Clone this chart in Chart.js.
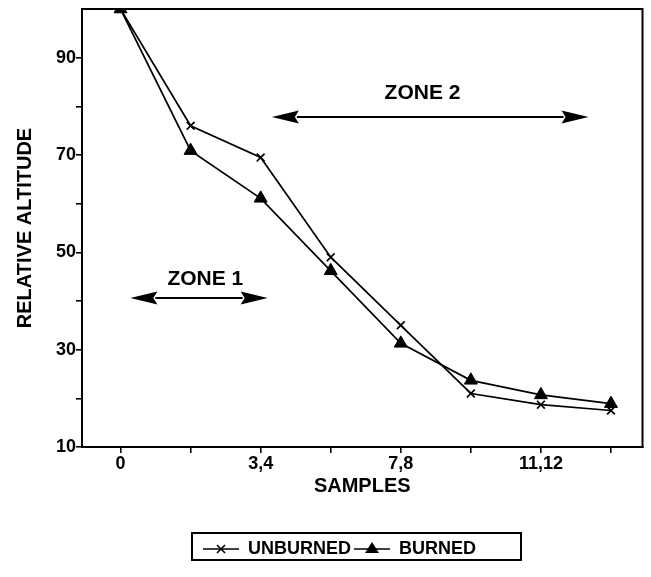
<!DOCTYPE html>
<html>
<head>
<meta charset="utf-8">
<script src="https://cdn.jsdelivr.net/npm/chart.js@4"></script>
<style>
  html, body { margin: 0; padding: 0; background: #fff; }
</style>
</head>
<body>
<canvas id="chart" width="651" height="577"></canvas>
<script>
// sample positions along the x axis, one tick each, labels on every other
const sampleIdx = [0, 1, 2, 3, 4, 5, 6, 7];
const xTickLabels = ["0", "", "3,4", "", "7,8", "", "11,12", ""];
const yTicks = [10, 20, 30, 40, 50, 60, 70, 80, 90];
const yTickLabels = ["10", "", "30", "", "50", "", "70", "", "90"];

// relative altitude
const unburned = [100, 76, 69.5, 49, 35, 21, 18.7, 17.5];
const burned = [100, 70.9, 61.1, 46.2, 31.3, 23.7, 20.7, 18.9];

// zone arrows (data coordinates)
const zoneNames = ["ZONE 1", "ZONE 2"];
const zoneFrom = [0.14, 2.16];
const zoneTo = [2.1, 6.68];
const zoneLevel = [40.6, 77.8];
const zoneLabelX = [1.21, 4.31];
const zoneLabelY = [44.4, 82.6];

const FONT = "'Liberation Sans', Arial, Helvetica, sans-serif";

function toPoints(values) {
  return sampleIdx.map((s, i) => ({ x: s, y: values[i] }));
}

// small line + marker picture for the legend
function legendIcon(kind) {
  const c = document.createElement("canvas");
  c.width = 36;
  c.height = 18;
  const g = c.getContext("2d");
  g.strokeStyle = "#000";
  g.fillStyle = "#000";
  g.lineWidth = 1.6;
  g.beginPath();
  g.moveTo(0, 9);
  g.lineTo(36, 9);
  g.stroke();
  if (kind === "cross") {
    g.beginPath();
    g.moveTo(14, 5); g.lineTo(22, 13);
    g.moveTo(22, 5); g.lineTo(14, 13);
    g.stroke();
  } else {
    g.beginPath();
    g.moveTo(18, 2); g.lineTo(25, 13); g.lineTo(11, 13);
    g.closePath();
    g.fill();
  }
  return c;
}

const framePlugin = {
  id: "frame",
  afterDatasetsDraw(chart) {
    const { ctx, chartArea, scales } = chart;
    const x = scales.x, y = scales.y;
    ctx.save();
    ctx.strokeStyle = "#000";
    ctx.fillStyle = "#000";
    ctx.lineWidth = 2;
    ctx.strokeRect(chartArea.left, chartArea.top, chartArea.width, chartArea.height);

    // double arrows with zone names
    const head = 27, half = 6.5;
    zoneNames.forEach((name, i) => {
      const x1 = x.getPixelForValue(zoneFrom[i]);
      const x2 = x.getPixelForValue(zoneTo[i]);
      const yy = y.getPixelForValue(zoneLevel[i]);
      ctx.beginPath();
      ctx.moveTo(x1 + head - 2, yy);
      ctx.lineTo(x2 - head + 2, yy);
      ctx.stroke();
      ctx.beginPath();
      ctx.moveTo(x1, yy);
      ctx.lineTo(x1 + head, yy - half);
      ctx.lineTo(x1 + head - 4, yy);
      ctx.lineTo(x1 + head, yy + half);
      ctx.closePath();
      ctx.fill();
      ctx.beginPath();
      ctx.moveTo(x2, yy);
      ctx.lineTo(x2 - head, yy - half);
      ctx.lineTo(x2 - head + 4, yy);
      ctx.lineTo(x2 - head, yy + half);
      ctx.closePath();
      ctx.fill();

      ctx.font = "bold 21px " + FONT;
      ctx.textAlign = "center";
      ctx.textBaseline = "middle";
      ctx.fillText(name, x.getPixelForValue(zoneLabelX[i]), y.getPixelForValue(zoneLabelY[i]));
    });
    ctx.restore();
  },
  afterDraw(chart) {
    // box around the legend
    const hb = chart.legend.legendHitBoxes;
    if (!hb || !hb.length) return;
    const last = hb[hb.length - 1];
    const left = hb[0].left - 11;
    const right = last.left + last.width + 45;
    const top = hb[0].top - 7;
    const bottom = hb[0].top + hb[0].height + 2;
    const ctx = chart.ctx;
    ctx.save();
    ctx.strokeStyle = "#000";
    ctx.lineWidth = 2;
    ctx.strokeRect(left, top, right - left, bottom - top);
    ctx.restore();
  }
};

new Chart(document.getElementById("chart"), {
  type: "line",
  data: {
    datasets: [
      {
        label: "UNBURNED",
        data: toPoints(unburned),
        borderColor: "#000",
        backgroundColor: "#000",
        borderWidth: 1.7,
        pointStyle: "crossRot",
        pointRadius: 5.5,
        pointBorderWidth: 1.7,
        tension: 0
      },
      {
        label: "BURNED",
        data: toPoints(burned),
        borderColor: "#000",
        backgroundColor: "#000",
        borderWidth: 1.7,
        pointStyle: "triangle",
        pointRadius: 7.5,
        pointBorderWidth: 1,
        tension: 0
      }
    ]
  },
  options: {
    responsive: false,
    animation: false,
    events: [],
    layout: { padding: { left: 34, right: 6, top: 9, bottom: 9 } },
    scales: {
      x: {
        type: "linear",
        min: -0.55,
        max: 7.45,
        afterBuildTicks: (s) => { s.ticks = sampleIdx.map((v) => ({ value: v })); },
        afterFit: (s) => { s.height = 90; s.paddingLeft = 0; s.paddingRight = 0; },
        grid: { display: true, drawOnChartArea: false, drawTicks: true, tickLength: 6, color: "#000", lineWidth: 1.6 },
        border: { display: true, color: "#000", width: 2 },
        ticks: {
          padding: 0,
          maxRotation: 0,
          autoSkip: false,
          color: "#000",
          font: { family: FONT, size: 18, weight: "bold" },
          callback: (v) => xTickLabels[sampleIdx.indexOf(v)] ?? ""
        },
        title: {
          display: true,
          text: "SAMPLES",
          color: "#000",
          font: { family: FONT, size: 20, weight: "bold" },
          padding: { top: 0, bottom: 39 }
        }
      },
      y: {
        min: 10,
        max: 100,
        afterBuildTicks: (s) => { s.ticks = yTicks.map((v) => ({ value: v })); },
        afterFit: (s) => { s.width = 48; s.paddingTop = 0; s.paddingBottom = 0; },
        grid: { display: true, drawOnChartArea: false, drawTicks: true, tickLength: 6, color: "#000", lineWidth: 1.6 },
        border: { display: true, color: "#000", width: 2 },
        ticks: {
          padding: 0,
          autoSkip: false,
          color: "#000",
          font: { family: FONT, size: 18, weight: "bold" },
          callback: (v) => yTickLabels[yTicks.indexOf(v)] ?? ""
        },
        title: {
          display: true,
          text: "RELATIVE ALTITUDE",
          color: "#000",
          font: { family: FONT, size: 20, weight: "bold" },
          padding: { top: -21, bottom: 0 }
        }
      }
    },
    plugins: {
      tooltip: { enabled: false },
      legend: {
        position: "bottom",
        labels: {
          usePointStyle: true,
          pointStyleWidth: 36,
          padding: 3,
          color: "#000",
          font: { family: FONT, size: 18, weight: "bold" },
          generateLabels: (chart) => chart.data.datasets.map((ds, i) => ({
            text: ds.label,
            pointStyle: legendIcon(i === 0 ? "cross" : "triangle"),
            fillStyle: "#000",
            strokeStyle: "#000",
            lineWidth: 0,
            hidden: false,
            datasetIndex: i
          }))
        }
      }
    }
  },
  plugins: [framePlugin]
});
</script>
</body>
</html>
